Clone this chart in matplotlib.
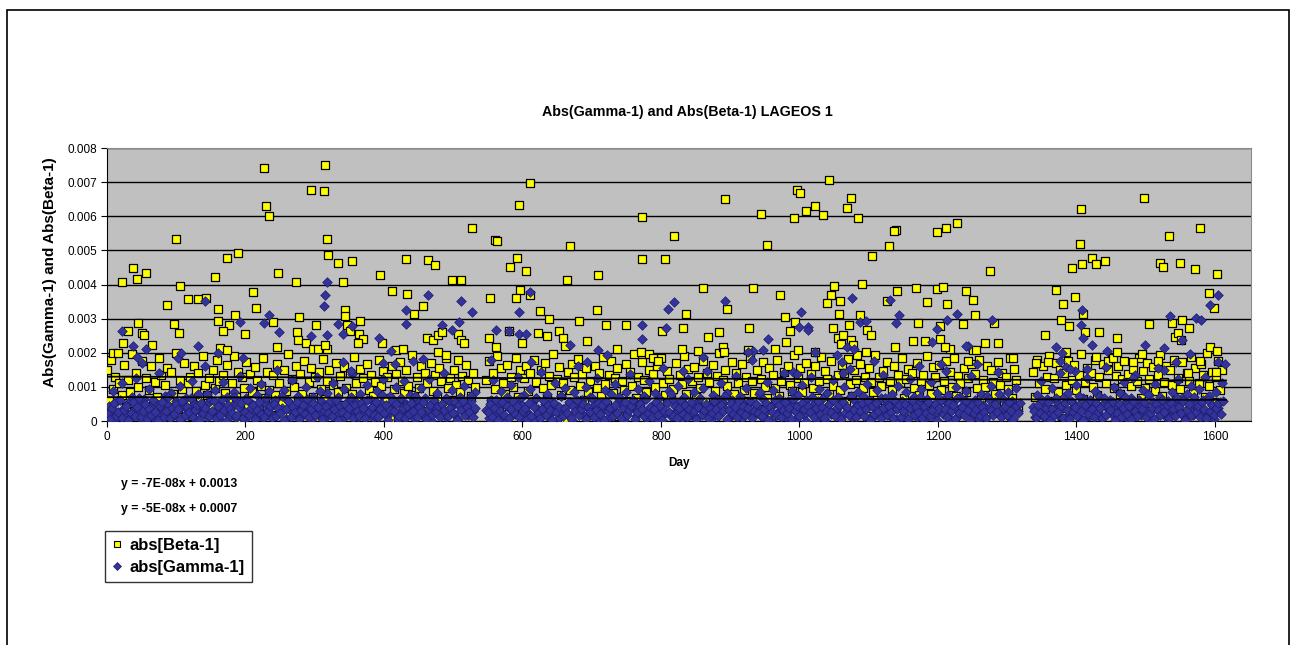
import numpy as np
import matplotlib
matplotlib.use('Agg')
import matplotlib.pyplot as plt
from matplotlib.patches import Rectangle
from matplotlib.lines import Line2D

plt.rcParams['font.family'] = ['Liberation Sans', 'DejaVu Sans']

# ---- data ------------------------------------------------------------
# dense band: solutions every 3 days, three arcs separated by gaps
seg_start = [0, 548, 1337]
seg_start_b = [1, 550, 1338]   # second gamma sampling, interleaved
cadence = 3

# abs[Gamma-1], units of 1e-5
gamma_seg1 = [12, 45, 30, 88, 5, 60, 22, 110, 38, 15,
              52, 8, 70, 33, 125, 18, 47, 3, 64, 28,
              95, 40, 11, 57, 20, 140, 35, 6, 73, 49,
              25, 82, 14, 58, 31, 103, 9, 44, 67, 19,
              36, 118, 50, 2, 79, 27, 41, 160, 13, 55,
              62, 21, 90, 34, 7, 48, 115, 26, 71, 16,
              43, 85, 10, 59, 132, 30, 4, 66, 24, 98,
              51, 17, 76, 39, 108, 8, 54, 29, 87, 45,
              14, 63, 150, 23, 37, 92, 6, 58, 32, 121,
              20, 47, 74, 11, 56, 28, 101, 40, 3, 69,
              35, 128, 18, 60, 44, 9, 83, 26, 52, 112,
              15, 70, 38, 5, 94, 49, 22, 65, 137, 30,
              57, 12, 80, 42, 19, 106, 33, 61, 8, 46,
              89, 24, 53, 170, 36, 14, 72, 41, 27, 99,
              6, 62, 31, 117, 50, 20, 77, 39, 10, 58,
              43, 96, 16, 68, 29, 124, 4, 55, 34, 81,
              25, 47, 142, 13, 63, 37, 90, 21, 52, 7,
              71, 32, 104, 45, 18, 59, 28, 86]
gamma_seg2 = [33, 8, 61, 120, 27, 45, 14, 88, 52, 3,
              70, 39, 105, 21, 58, 130, 11, 46, 76, 30,
              17, 93, 54, 6, 66, 35, 145, 24, 49, 80,
              12, 59, 28, 112, 41, 9, 73, 36, 98, 19,
              55, 4, 84, 44, 162, 26, 62, 15, 101, 38,
              69, 22, 50, 127, 7, 57, 31, 91, 43, 13,
              78, 34, 109, 20, 64, 47, 2, 86, 29, 138,
              40, 60, 16, 95, 53, 25, 74, 10, 118, 37,
              48, 82, 5, 67, 32, 154, 23, 56, 89, 14,
              63, 28, 102, 42, 8, 71, 35, 124, 19, 51,
              85, 11, 58, 39, 96, 26, 147, 45, 6, 77,
              30, 65, 18, 110, 52, 36, 83, 13, 61, 41,
              133, 24, 72, 9, 49, 97, 31, 57, 178, 20,
              44, 80, 15, 64, 27, 115, 38, 3, 90, 53,
              22, 68, 41, 141, 12, 59, 34, 87, 47, 7,
              75, 29, 106, 18, 62, 43, 128, 25, 54, 10,
              93, 37, 66, 4, 81, 50, 21, 119, 33, 70,
              16, 56, 99, 40, 28, 152, 11, 63, 45, 84,
              23, 74, 35, 108, 8, 60, 49, 17, 92, 31,
              67, 136, 26, 55, 14, 79, 42, 5, 103, 38,
              58, 20, 86, 46, 123, 30, 71, 13, 52, 95,
              34, 9, 65, 27, 114, 48, 19, 82, 40, 166,
              61, 24, 76, 6, 54, 37, 100, 15, 69, 44,
              29, 88, 51, 131, 18, 63, 36, 7, 79, 47,
              12, 72, 39, 104, 25, 57, 143, 32, 66, 21,
              50, 85, 10, 60, 41, 97, 28]
gamma_seg3 = [41, 13, 75, 30, 118, 52, 8, 64, 26, 97,
              36, 58, 19, 140, 45, 70, 11, 83, 32, 55,
              22, 106, 48, 5, 67, 38, 126, 16, 60, 43,
              89, 28, 74, 10, 51, 158, 34, 62, 20, 99,
              46, 14, 81, 37, 113, 55, 7, 68, 29, 135,
              40, 63, 17, 92, 50, 24, 77, 3, 57, 109,
              33, 71, 44, 148, 12, 60, 35, 86, 21, 53,
              120, 27, 66, 9, 79, 42, 102, 18, 58, 37,
              94, 25, 61, 130, 15, 73, 47, 6, 84, 39,
              56, 112]

gamma_seg1_b = [20, 5, 38, 52, 14, 27, 61, 9, 33, 45,
                3, 24, 57, 16, 40, 68, 11, 30, 49, 7,
                35, 18, 63, 26, 2, 44, 55, 13, 29, 71,
                8, 39, 21, 50, 34, 6, 59, 17, 42, 25,
                66, 12, 31, 47, 4, 54, 22, 37, 80, 15,
                28, 58, 10, 43, 19, 64, 32, 1, 48, 36,
                23, 70, 14, 41, 53, 8, 27, 62, 18, 39,
                46, 5, 33, 57, 21, 12, 67, 29, 44, 9,
                51, 16, 38, 24, 73, 3, 35, 60, 13, 42,
                27, 55, 7, 31, 48, 20, 65, 11, 36, 52,
                17, 40, 88, 6, 29, 45, 23, 58, 14, 34,
                61, 2, 43, 26, 50, 19, 37, 69, 10, 47,
                30, 15, 54, 39, 8, 63, 25, 41, 18, 56,
                12, 35, 77, 22, 46, 4, 32, 59, 28, 49,
                16, 66, 38, 9, 44, 21, 53, 30, 72, 13,
                40, 25, 57, 6, 34, 48, 19, 62, 27, 43,
                11, 51, 31, 68, 15, 37, 24, 55, 3, 46,
                33, 60, 18, 41, 26, 74, 12, 38]
gamma_seg2_b = [26, 49, 11, 37, 62, 4, 30, 55, 18, 43,
                8, 34, 58, 21, 45, 13, 70, 28, 39, 5,
                52, 16, 41, 66, 24, 9, 36, 60, 19, 47,
                31, 2, 54, 27, 42, 73, 14, 38, 22, 57,
                10, 44, 29, 63, 17, 35, 50, 6, 40, 25,
                68, 12, 33, 53, 20, 46, 3, 59, 28, 37,
                15, 48, 24, 71, 9, 39, 56, 18, 32, 44,
                61, 7, 27, 50, 36, 14, 65, 23, 41, 11,
                34, 57, 19, 45, 2, 30, 52, 26, 78, 16,
                43, 8, 37, 60, 21, 48, 13, 35, 55, 29,
                5, 42, 67, 18, 31, 51, 10, 39, 24, 58,
                36, 15, 46, 28, 72, 6, 33, 54, 20, 40,
                12, 63, 27, 44, 17, 38, 59, 9, 30, 49,
                23, 85, 14, 35, 52, 4, 41, 26, 61, 19,
                47, 11, 32, 56, 22, 39, 7, 64, 29, 43,
                16, 53, 34, 1, 45, 25, 69, 13, 37, 58,
                20, 42, 8, 31, 50, 27, 62, 15, 38, 46,
                6, 57, 24, 40, 18, 74, 33, 11, 48, 28,
                54, 14, 36, 60, 3, 43, 21, 52, 30, 9,
                39, 66, 17, 45, 25, 8, 58, 34, 47, 13,
                28, 51, 5, 37, 62, 19, 41, 26, 70, 10,
                44, 23, 56, 15, 32, 49, 2, 38, 61, 21,
                35, 12, 53, 29, 46, 7, 67, 24, 40, 17,
                59, 31, 4, 48, 22, 36, 55, 14, 42, 27,
                9, 64, 33, 19, 50, 26, 80, 11, 38, 45,
                18, 57, 30, 6, 43, 24, 52]
gamma_seg3_b = [30, 8, 47, 22, 61, 14, 39, 55, 3, 36,
                19, 68, 27, 44, 10, 52, 33, 6, 58, 25,
                41, 15, 73, 29, 2, 48, 20, 63, 35, 12,
                54, 26, 38, 9, 66, 17, 43, 31, 57, 4,
                23, 50, 13, 37, 70, 21, 45, 7, 60, 28,
                16, 42, 34, 56, 11, 79, 24, 39, 5, 51,
                32, 18, 62, 27, 46, 9, 53, 36, 14, 67,
                40, 22, 58, 3, 31, 49, 19, 71, 26, 44,
                12, 55, 35, 8, 63, 29, 47, 17, 38, 52,
                21, 60]

# abs[Beta-1], units of 1e-5
beta_seg1 = [150, 60, 180, 95, 130, 20, 110, 75, 165, 40,
             120, 85, 195, 30, 140, 100, 55, 175, 10, 125,
             90, 160, 45, 115, 70, 185, 135, 25, 105, 155,
             65, 145, 80, 200, 35, 120, 95, 170, 50, 110,
             130, 15, 160, 88, 140, 60, 190, 105, 75, 125,
             40, 150, 98, 178, 118, 28, 135, 82, 165, 55,
             112, 190, 70, 145, 5, 128, 96, 172, 48, 138,
             84, 158, 120, 35, 102, 186, 66, 143, 92, 18,
             134, 76, 168, 110, 52, 149, 88, 196, 25, 122,
             100, 160, 58, 137, 80, 175, 42, 115, 155, 70,
             128, 12, 145, 93, 182, 64, 118, 150, 36, 106,
             171, 85, 132, 48, 158, 97, 22, 140, 78, 188,
             110, 60, 152, 125, 30, 168, 90, 136, 72, 114,
             44, 180, 102, 146, 66, 128, 8, 162, 94, 138,
             56, 174, 118, 82, 150, 104, 38, 192, 76, 130,
             98, 160, 52, 142, 112, 26, 170, 88, 134, 68,
             154, 116, 40, 186, 96, 126, 62, 148, 106, 178,
             84, 132, 46, 164, 120, 72, 140, 100]
beta_seg2 = [120, 175, 60, 140, 95, 190, 35, 155, 110, 80,
             165, 45, 130, 100, 185, 70, 148, 20, 125, 160,
             88, 142, 55, 178, 115, 30, 150, 98, 170, 65,
             132, 105, 195, 40, 122, 158, 75, 112, 10, 145,
             92, 168, 128, 50, 182, 102, 138, 62, 155, 85,
             118, 25, 162, 96, 140, 72, 188, 108, 46, 134,
             176, 82, 126, 154, 14, 116, 90, 166, 58, 144,
             104, 196, 68, 130, 38, 172, 120, 86, 150, 28,
             138, 100, 160, 52, 184, 112, 76, 146, 124, 64,
             94, 170, 42, 136, 108, 190, 80, 152, 18, 118,
             158, 70, 128, 98, 176, 56, 142, 114, 34, 164,
             88, 132, 198, 62, 120, 150, 102, 44, 174, 78,
             140, 110, 22, 166, 92, 130, 60, 186, 116, 82,
             148, 36, 124, 172, 100, 66, 156, 12, 134, 96,
             180, 74, 118, 144, 50, 162, 106, 88, 192, 40,
             126, 154, 84, 112, 170, 30, 138, 98, 160, 68,
             116, 188, 54, 146, 122, 78, 176, 104, 26, 134,
             90, 164, 140, 58, 182, 108, 72, 150, 120, 44,
             168, 96, 130, 16, 156, 114, 84, 194, 62, 128,
             102, 146, 38, 174, 118, 90, 160, 54, 136, 110,
             184, 66, 124, 152, 20, 142, 98, 170, 76, 116,
             134, 48, 190, 106, 80, 158, 128, 34, 164, 92,
             118, 176, 60, 144, 100, 186, 72, 132, 112, 24,
             154, 86, 126, 168, 46, 138, 96, 180, 64, 120,
             100, 162, 30, 148, 114, 78, 172, 106, 140, 56,
             130, 94, 184, 68, 152, 120, 40]
beta_seg3 = [145, 70, 180, 110, 35, 160, 95, 130, 190, 60,
             125, 170, 85, 150, 15, 140, 105, 175, 50, 120,
             165, 90, 135, 195, 65, 115, 155, 28, 142, 100,
             178, 75, 128, 58, 168, 112, 148, 40, 186, 96,
             132, 160, 80, 122, 176, 44, 138, 104, 152, 20,
             118, 184, 66, 146, 98, 170, 124, 54, 158, 88,
             136, 192, 74, 114, 162, 36, 150, 106, 180, 62,
             126, 94, 172, 48, 140, 116, 188, 82, 154, 30,
             110, 166, 134, 70, 198, 102, 144, 56, 128, 176,
             92, 150]

# readable outliers: (day, value in units of 1e-3)
beta_hi = [(21, 4.08), (38, 4.47), (43, 4.15), (56, 4.35), (99, 5.33), (105, 3.95),
           (117, 3.57), (131, 3.57), (143, 3.59), (156, 4.22), (173, 4.77), (189, 4.93),
           (211, 3.78), (227, 7.41), (229, 6.30), (234, 6.00), (247, 4.33), (273, 4.08),
           (295, 6.78), (313, 6.75), (315, 7.49), (318, 5.33), (319, 4.86), (333, 4.62),
           (341, 4.08), (354, 4.69), (394, 4.29), (411, 3.81), (432, 4.76), (433, 3.72),
           (463, 4.72), (473, 4.56), (611, 6.98), (595, 6.34), (527, 5.67), (561, 5.31),
           (563, 5.27), (669, 5.13), (592, 4.79), (582, 4.50), (605, 4.41), (498, 4.12),
           (511, 4.12), (664, 4.12), (709, 4.29), (772, 4.76), (806, 4.76), (773, 5.97),
           (819, 5.43), (892, 6.51), (945, 6.08), (953, 5.16), (992, 5.94), (997, 6.76),
           (1001, 6.69), (1010, 6.15), (1022, 6.30), (1034, 6.04), (1043, 7.05), (1075, 6.54),
           (1068, 6.24), (1085, 5.94), (1129, 5.13), (1105, 4.83), (1090, 4.01), (1050, 3.95),
           (1045, 3.68), (861, 3.91), (933, 3.91), (972, 3.68), (596, 3.84), (611, 3.68),
           (553, 3.59), (590, 3.59), (1497, 6.54), (1406, 6.21), (1140, 5.60), (1137, 5.58),
           (1198, 5.53), (1212, 5.67), (1227, 5.80), (1275, 4.41), (1405, 5.19), (1393, 4.47),
           (1408, 4.59), (1422, 4.77), (1428, 4.59), (1441, 4.69), (1534, 5.43), (1579, 5.67),
           (1521, 4.64), (1525, 4.50), (1550, 4.62), (1571, 4.44), (1603, 4.32), (1591, 3.74),
           (1141, 3.81), (1168, 3.91), (1199, 3.88), (1207, 3.94), (1240, 3.81), (1370, 3.85),
           (1398, 3.64), (86, 3.41), (215, 3.31), (160, 3.27), (185, 3.12), (343, 3.24),
           (344, 3.09), (277, 3.05), (45, 2.88), (97, 2.84), (161, 2.94), (176, 2.81),
           (240, 2.91), (366, 2.94), (31, 2.63), (50, 2.59), (54, 2.51), (104, 2.58),
           (168, 2.63), (200, 2.54), (275, 2.61), (302, 2.81), (276, 2.36), (346, 2.82),
           (351, 2.65), (364, 2.56), (370, 2.39), (363, 2.29), (397, 2.30), (23, 2.28),
           (65, 2.24), (9, 2.00), (16, 1.98), (163, 2.14), (174, 2.09), (245, 2.18),
           (288, 2.28), (298, 2.12), (305, 2.12), (317, 2.12), (315, 2.22), (417, 2.09),
           (457, 3.36), (443, 3.15), (625, 3.22), (638, 3.00), (707, 3.24), (682, 2.92),
           (720, 2.82), (750, 2.82), (801, 2.65), (832, 2.73), (836, 3.15), (462, 2.44),
           (471, 2.36), (478, 2.51), (484, 2.61), (507, 2.56), (511, 2.36), (515, 2.29),
           (427, 2.12), (551, 2.44), (562, 2.16), (581, 2.63), (599, 2.30), (622, 2.59),
           (635, 2.48), (653, 2.65), (659, 2.44), (661, 2.20), (693, 2.33), (736, 2.10),
           (478, 2.01), (490, 1.92), (771, 2.01), (782, 1.95), (789, 1.85), (796, 1.75),
           (896, 3.27), (1039, 3.47), (1059, 3.52), (1126, 3.52), (1184, 3.48), (1213, 3.42),
           (1251, 3.54), (979, 3.05), (993, 2.90), (986, 2.63), (981, 2.31), (1057, 3.15),
           (1087, 3.12), (1072, 2.82), (1097, 2.67), (1103, 2.51), (1049, 2.73), (1056, 2.44),
           (1063, 2.53), (1060, 2.26), (1075, 2.36), (1077, 2.23), (868, 2.46), (884, 2.61),
           (927, 2.73), (1171, 2.87), (1236, 2.85), (1253, 3.12), (1164, 2.34), (1181, 2.33),
           (1203, 2.41), (1217, 2.11), (1210, 2.16), (1138, 2.16), (830, 2.11), (854, 2.06),
           (890, 2.16), (891, 2.01), (926, 2.09), (965, 2.11), (998, 2.09), (1022, 2.03),
           (1096, 2.01), (1083, 1.92), (1251, 2.09), (1244, 1.77), (1381, 3.44), (1410, 3.15),
           (1377, 2.97), (1389, 2.77), (1413, 2.61), (1433, 2.61), (1459, 2.44), (1354, 2.51),
           (1268, 2.28), (1286, 2.30), (1255, 2.09), (1505, 2.85), (1538, 2.87), (1553, 2.97),
           (1563, 2.73), (1542, 2.46), (1547, 2.58), (1551, 2.38), (1599, 3.32), (1593, 2.16),
           (1603, 2.04), (1309, 1.84), (1341, 1.71), (1359, 1.73), (1385, 2.03), (1428, 1.87),
           (1446, 1.77), (1453, 1.85), (1458, 2.03), (1481, 1.73), (1494, 1.97), (1517, 1.77),
           (1561, 1.41), (1579, 1.77), (1601, 1.45), (1203, 2.77), (1281, 2.87)]

gamma_hi = [(318, 4.08), (315, 3.69), (463, 3.69), (611, 3.77), (1605, 3.69), (313, 3.37),
            (142, 3.52), (234, 3.11), (227, 2.87), (192, 2.90), (248, 2.61), (333, 2.85),
            (354, 2.78), (318, 2.51), (295, 2.48), (341, 2.56), (22, 2.63), (38, 2.19),
            (57, 2.11), (131, 2.20), (393, 2.44), (410, 2.04), (511, 3.52), (432, 3.24),
            (527, 3.19), (432, 2.85), (595, 3.18), (509, 2.90), (484, 2.80), (498, 2.68),
            (562, 2.68), (580, 2.65), (595, 2.56), (605, 2.56), (668, 2.23), (709, 2.08),
            (722, 1.92), (693, 1.74), (773, 2.82), (773, 2.41), (807, 2.72), (819, 3.49),
            (810, 3.29), (893, 3.52), (1076, 3.59), (1002, 3.18), (1144, 3.11), (1139, 2.87),
            (1228, 3.15), (1213, 2.95), (1199, 2.70), (1244, 2.21), (1088, 2.90), (1096, 2.93),
            (1013, 2.75), (999, 2.75), (955, 2.41), (1068, 2.16), (1078, 2.11), (1054, 1.92),
            (1062, 1.72), (1063, 1.42), (991, 1.45), (997, 1.38), (933, 2.06), (947, 2.09),
            (1022, 2.03), (1593, 3.39), (1408, 3.24), (1406, 2.82), (1410, 2.44), (1535, 3.07),
            (1573, 3.03), (1580, 2.97), (1278, 2.95), (1499, 2.23), (1526, 2.14), (1371, 2.18),
            (1423, 2.23), (1444, 2.06), (1241, 2.21), (1257, 1.67), (1564, 1.95), (1543, 1.74),
            (1604, 1.74), (1615, 1.67), (1385, 1.57), (1398, 1.47), (1415, 1.52), (1131, 3.54),
            (1191, 2.31), (1379, 1.99), (1553, 2.36), (1013, 2.68), (44, 1.87), (50, 1.70),
            (102, 1.84), (107, 1.99), (161, 1.99), (197, 1.85), (341, 1.73), (353, 1.47),
            (398, 1.23), (416, 1.67), (442, 1.77), (457, 1.81), (554, 1.80), (612, 1.74),
            (832, 1.47), (861, 1.87), (926, 2.01), (1107, 1.77), (1172, 1.62), (1212, 1.47),
            (1376, 1.77), (1391, 1.52), (1482, 1.26), (1518, 1.55), (1547, 1.22)]

# linear trendlines as given on the chart (slope, intercept)
beta_trend = (-7e-08, 0.0013)
gamma_trend = (-5e-08, 0.0007)
trend_days = [0, 1616]

beta_label = 'abs[Beta-1]'
gamma_label = 'abs[Gamma-1]'

# ---- assemble series -------------------------------------------------
def band(starts, segments):
    days, vals = [], []
    for start, seg in zip(starts, segments):
        days.extend(start + cadence * np.arange(len(seg)))
        vals.extend(np.array(seg) * 1e-5)
    return days, vals

b_days, b_vals = band(seg_start, [beta_seg1, beta_seg2, beta_seg3])
g_days, g_vals = band(seg_start, [gamma_seg1, gamma_seg2, gamma_seg3])
g2_days, g2_vals = band(seg_start_b, [gamma_seg1_b, gamma_seg2_b, gamma_seg3_b])
g_days += g2_days
g_vals += g2_vals
b_days += [d for d, v in beta_hi]
b_vals += [v * 1e-3 for d, v in beta_hi]
g_days += [d for d, v in gamma_hi]
g_vals += [v * 1e-3 for d, v in gamma_hi]

# ---- figure ----------------------------------------------------------
W, H = 1292, 645
fig = plt.figure(figsize=(W / 100, H / 100), dpi=100)
fig.patch.set_facecolor('white')
fig.add_artist(Rectangle((7 / W, -0.05), (1289 - 7) / W, 1.05 - 10 / H,
                         transform=fig.transFigure, fill=False,
                         edgecolor='black', lw=1.2))

ax = fig.add_axes([107 / W, 1 - 421 / H, (1251 - 107) / W, (421 - 148) / H])
ax.set_facecolor('#C0C0C0')

ax.scatter(b_days, b_vals, marker='s', s=32, facecolor='#FFFF00',
           edgecolor='black', linewidths=0.9, zorder=3)
ax.scatter(g_days, g_vals, marker='D', s=24, facecolor='#333399',
           edgecolor='#1C1C70', linewidths=0.5, zorder=4)

for slope, icpt in (beta_trend, gamma_trend):
    ax.plot(trend_days, [icpt + slope * d for d in trend_days],
            color='black', lw=1.3, zorder=5)

ax.set_xlim(0, 1652)
ax.set_ylim(0, 0.008)
ax.set_xticks(range(0, 1601, 200))
ax.set_yticks(np.arange(0, 0.0081, 0.001))
ax.set_yticklabels(['0', '0.001', '0.002', '0.003', '0.004', '0.005',
                    '0.006', '0.007', '0.008'])
ax.yaxis.grid(True, color='black', lw=1.0)
ax.set_axisbelow(True)
ax.tick_params(labelsize=8.5, length=4, width=0.8, direction='out', pad=3)
for side in ('top', 'right'):
    ax.spines[side].set_color('#8C8C8C')
for side in ('left', 'bottom'):
    ax.spines[side].set_color('black')

fig.text(687 / W, 1 - 112 / H, 'Abs(Gamma-1) and Abs(Beta-1) LAGEOS 1',
         ha='center', va='center', fontsize=10.3, fontweight='bold')
fig.text(679 / W, 1 - 463 / H, 'Day', ha='center', va='center',
         fontsize=8.5, fontweight='bold')
fig.text(50 / W, 1 - 272 / H, 'Abs(Gamma-1) and Abs(Beta-1)', rotation=90,
         ha='center', va='center', fontsize=11, fontweight='bold')

fig.text(121 / W, 1 - 484 / H, 'y = -7E-08x + 0.0013', ha='left', va='center',
         fontsize=8.8, fontweight='bold')
fig.text(121 / W, 1 - 509 / H, 'y = -5E-08x + 0.0007', ha='left', va='center',
         fontsize=8.8, fontweight='bold')

handles = [Line2D([], [], ls='none', marker='s', ms=5, mfc='#FFFF00', mec='black', mew=0.8),
           Line2D([], [], ls='none', marker='D', ms=4, mfc='#333399', mec='#1C1C70', mew=0.5)]
leg = fig.legend(handles, [beta_label, gamma_label], loc='upper left',
                 bbox_to_anchor=(105 / W, 1 - 531 / H), borderaxespad=0,
                 frameon=True, fancybox=False, edgecolor='black',
                 prop={'size': 12, 'weight': 'bold'}, handlelength=0.6,
                 handletextpad=0.5, borderpad=0.4, labelspacing=0.45)
leg.get_frame().set_linewidth(1.0)

fig.savefig('out.png', dpi=100)
